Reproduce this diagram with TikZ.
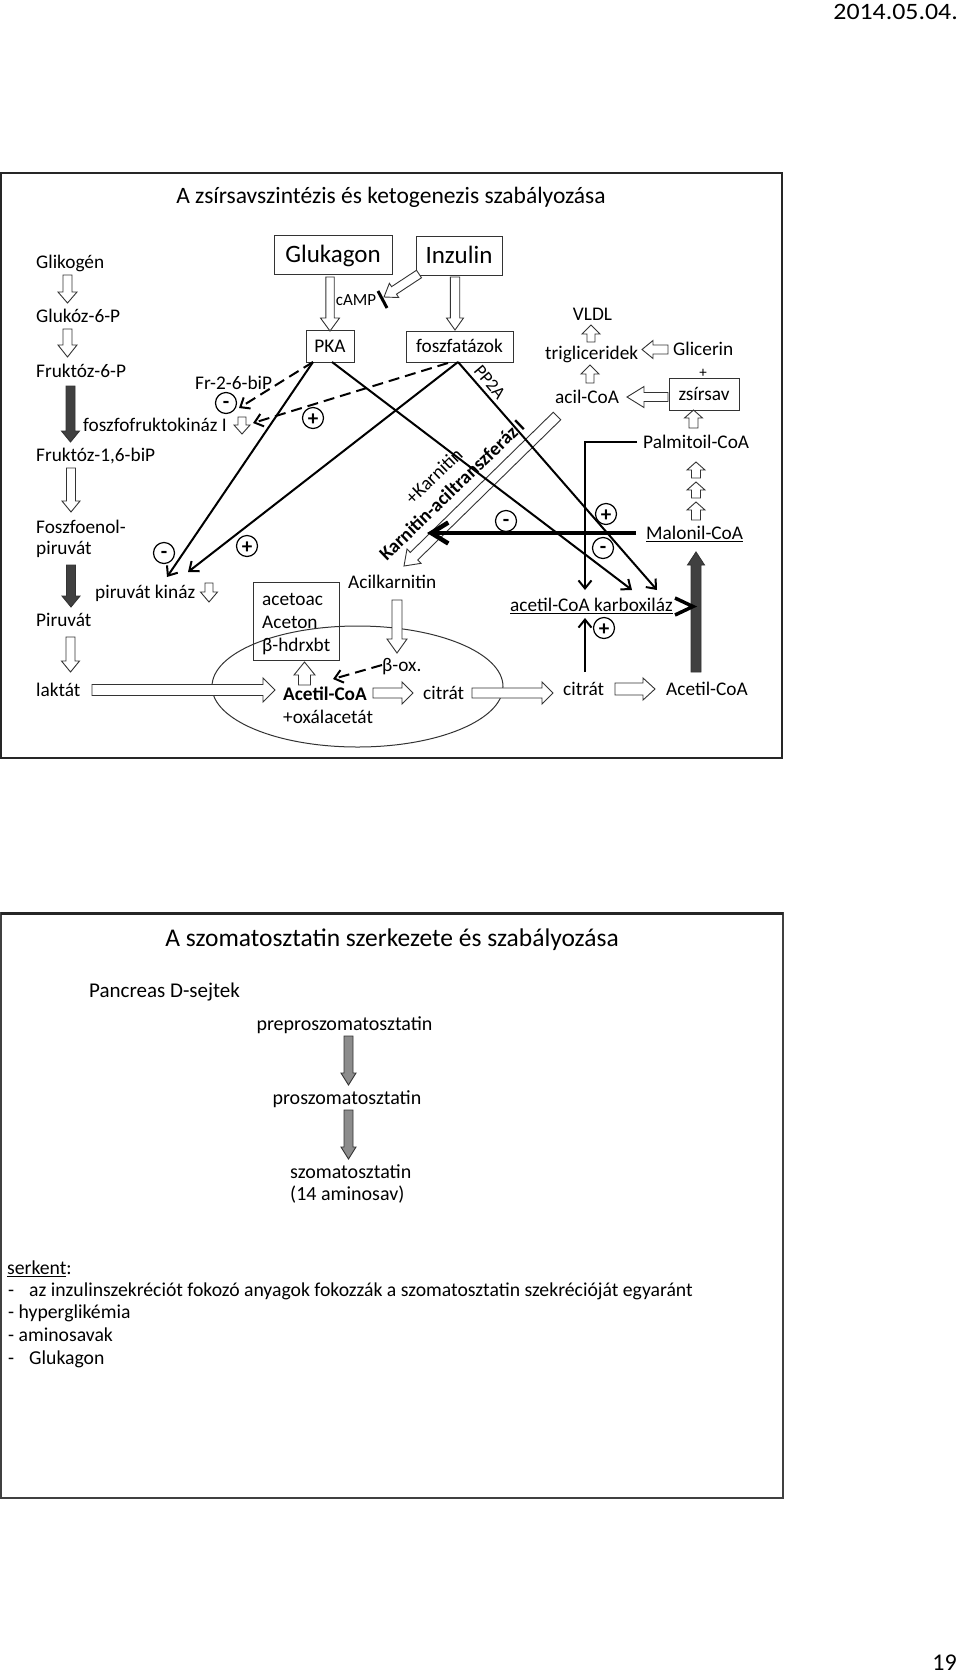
\documentclass[tikz,border=0pt]{standalone}
\usepackage{fontspec}
\setmainfont{Carlito}
\newfontfamily\strfont{Carlito}[FakeStretch=1.1]
\usetikzlibrary{calc,arrows.meta}
\newcommand{\fsz}[1]{\fontsize{#1pt}{#1pt}\selectfont}
% block (hollow) arrow: [style]{start}{end}{shaft half width}{head half width}{head length}
\newcommand{\barrow}[6][fill=white]{%
  \coordinate (bas) at (#2);
  \coordinate (bae) at (#3);
  \coordinate (bah) at ($(bae)!#6!(bas)$);
  \draw[blk,#1] ($(bas)!#4!90:(bae)$) -- ($(bah)!#4!-90:(bas)$) -- ($(bah)!#5!-90:(bas)$) -- (bae) -- ($(bah)!#5!90:(bas)$) -- ($(bah)!#4!90:(bas)$) -- ($(bas)!#4!-90:(bae)$) -- cycle;}
\tikzset{
  blk/.style={draw=black!80, line width=0.9pt, line join=miter},
  bodytxt/.style={inner sep=0pt, font=\fsz{19.3}, text height=12.6pt, text depth=0pt},
  smalltxt/.style={inner sep=0pt, font=\fsz{17}, text height=11pt, text depth=0pt},
  txtb/.style={inner sep=0pt, font=\fsz{20}, text height=13pt, text depth=0pt},
  boxn/.style={draw=black!80, line width=1pt, inner sep=0pt},
  conn/.style={line width=2pt, -{Straight Barb[length=8pt,width=13pt]}},
  dconn/.style={conn, dash pattern=on 11pt off 6pt},
  sgnp/.style={circle, draw, line width=1.2pt, minimum size=21pt, inner sep=0pt, font=\fsz{21}\bfseries, text height=14.2pt, text depth=0pt},
  sgnm/.style={sgnp, text height=11pt},
}
\begin{document}
\begin{tikzpicture}[x=1pt,y=-1pt]
\useasboundingbox (0,0) rectangle (960,1674);
\fill[white] (0,0) rectangle (960,1674);

% header / footer
\node[inner sep=0pt, anchor=east, font=\strfont\fsz{23.5}, text height=15pt, text depth=0pt] (date) at (958,12) {2014.05.04.};
\node[inner sep=0pt, anchor=east, font=\fsz{24}, text height=15.2pt, text depth=0pt] (pgnum) at (957,1663) {19};

% frames
\draw[line width=2pt, draw=black!85] (1,173) rectangle (782,758);
\draw[line width=1.5pt, draw=black!75] (1,913) rectangle (783,1498);
\draw[line width=3pt, draw=black!85] (1,913) -- (783,913);

% ellipse (mitochondrion)
\draw[line width=1pt, draw=black!80] (357.5,686.5) ellipse [x radius=145.5pt, y radius=60.5pt];

% ---------- frame 1 -------------
\node[inner sep=0pt, font=\fsz{23.5}, text height=15pt, text depth=0pt] (title1) at (391,196) {A zsírsavszintézis és ketogenezis szabályozása};

% left column
\node[bodytxt, anchor=west] (glik) at (36,262) {Glikogén};
\node[bodytxt, anchor=west] (g6p) at (36,316) {Glukóz-6-P};
\node[bodytxt, anchor=west] (f6p) at (36,371) {Fruktóz-6-P};
\node[bodytxt, anchor=west] (f16) at (36,455) {Fruktóz-1,6-biP};
\node[bodytxt, anchor=west] (pep1) at (36,527) {Foszfoenol-};
\node[bodytxt, anchor=west] (pep2) at (36,548) {piruvát};
\node[bodytxt, anchor=west] (pir) at (36,620) {Piruvát};
\node[bodytxt, anchor=west] (lak) at (36,690) {laktát};

\barrow{67.5,275}{67.5,303}{4.5pt}{9.5pt}{11pt}
\barrow{67.5,329}{67.5,357}{4.5pt}{9.5pt}{12pt}
\barrow[fill=black!75]{70.5,386}{70.5,442}{4.5pt}{9pt}{11pt}
\barrow{71,468}{71,512}{4.5pt}{9pt}{11pt}
\barrow[fill=black!75]{71,565}{71,607}{4.5pt}{9pt}{11pt}
\barrow{70.5,637}{70.5,672}{4.5pt}{9pt}{11pt}
\barrow{92,690}{275,690}{5.5pt}{12pt}{12pt}

% hormone boxes
\node[boxn, minimum width=118pt, minimum height=39pt, font=\fsz{25}, text height=16pt, text depth=0pt] (glukagon) at (333,254.5) {Glukagon};
\node[boxn, minimum width=86pt, minimum height=39pt, font=\fsz{25}, text height=16pt, text depth=0pt] (inzulin) at (459,255.5) {Inzulin};
\node[boxn, minimum width=48pt, minimum height=32pt, font=\fsz{19.3}, text height=12.6pt, text depth=0pt] (pka) at (330,346) {PKA};
\node[boxn, minimum width=107pt, minimum height=31pt, font=\fsz{19.3}, text height=12.6pt, text depth=0pt] (foszf) at (459.5,346.5) {foszfatázok};

\barrow{330,277}{330,331}{4.2pt}{9.5pt}{13pt}
\barrow{455,277}{455,330}{4.7pt}{8.5pt}{12pt}
\barrow{419,274}{384,297}{4.5pt}{8.5pt}{12pt}
\node[smalltxt] (camp) at (356,300) {cAMP};
\draw[line width=3pt] (378,291) -- (387,308);

% enzymes on the left
\node[bodytxt, anchor=west] (fr26) at (195,383) {Fr-2-6-biP};
\node[bodytxt, anchor=west] (pfk) at (83,425) {foszfofruktokináz I};
\barrow{242,417}{242,434}{4pt}{8pt}{9pt}
\node[bodytxt, anchor=west] (pk) at (95,592) {piruvát kináz};
\barrow{209,583}{209,602}{4pt}{8.5pt}{10pt}

% Karnitin-aciltranszferaz bar
\barrow{557,416}{404,566}{5.3pt}{10pt}{14pt}
\node[bodytxt, font=\fsz{19.3}\bfseries, rotate=44] (cat) at (452,490) {Karnitin-aciltranszferáz I};
\node[bodytxt, rotate=44] (karn) at (434,476) {+Karnitin};

% ketone bodies
\node[boxn, minimum width=86pt, minimum height=78pt] (keto) at (296,621) {};
\node[bodytxt, anchor=west] (k1) at (262,599) {acetoac};
\node[bodytxt, anchor=west] (k2) at (262,622) {Aceton};
\node[bodytxt, anchor=west] (k3) at (262,645) {β-hdrxbt};

\node[bodytxt, anchor=west] (acilk) at (348,582) {Acilkarnitin};
\barrow{397,600}{397,653}{5pt}{10pt}{14pt}
\node[bodytxt, anchor=west] (box) at (382,665) {β-ox.};
\node[bodytxt, anchor=west, font=\fsz{19.3}\bfseries] (acoa1) at (283,694) {Acetil-CoA};
\node[bodytxt, anchor=west] (oxal) at (283,717) {+oxálacetát};
\node[bodytxt, anchor=west] (citr1) at (423,693) {citrát};
\barrow{304.5,685}{304.5,662}{6pt}{10.5pt}{13pt}
\barrow{373,693}{413,693}{5pt}{11pt}{11pt}
\barrow{472,693}{553,693}{5pt}{11pt}{11pt}
\draw[dconn] (box.west) -- (333,679);

% right side
\node[bodytxt, anchor=west] (citr2) at (563,689) {citrát};
\node[bodytxt, anchor=west] (acoa2) at (666,689) {Acetil-CoA};
\barrow{615,689}{655,689}{6pt}{11pt}{12pt}
\barrow[fill=black!75]{696,672}{696,552}{5pt}{8.5pt}{13pt}
\node[bodytxt, anchor=west] (malon) at (646,533) {\underline{Malonil-CoA}};
\node[bodytxt, anchor=west] (acc) at (510,605) {\underline{acetil-CoA karboxiláz}};
\draw[line width=3.5pt, line join=miter] (675,598) -- (693,606.5) -- (675,615);
\node[bodytxt, anchor=west] (palm) at (643,442) {Palmitoil-CoA};
\barrow{696,520}{696,502}{4.5pt}{9pt}{8pt}
\barrow{696,498}{696,482}{4.5pt}{9pt}{8pt}
\barrow{696,478}{696,462}{4.5pt}{9pt}{8pt}
\barrow{693.5,428}{693.5,410}{4.5pt}{9pt}{8pt}
\node[boxn, minimum width=70pt, minimum height=32pt, font=\fsz{19.3}, text height=12.6pt, text depth=0pt] (zsir) at (704,394) {zsírsav};
\node[smalltxt, font=\fsz{15}, text height=10pt] (plus0) at (703,372) {+};
\node[bodytxt, anchor=west] (glic) at (673,349) {Glicerin};
\node[bodytxt, anchor=west] (trig) at (545,353) {trigliceridek};
\node[bodytxt, anchor=west] (acil) at (555,397) {acil-CoA};
\node[bodytxt] (vldl) at (592.5,314) {VLDL};
\barrow{591,342}{591,325}{4pt}{9pt}{9pt}
\barrow{590,383}{590,365}{4pt}{9pt}{9pt}
\barrow{668,349.5}{642,349.5}{4.5pt}{9pt}{11pt}
\barrow{668,397}{627,397}{4.5pt}{10.5pt}{17pt}

% regulation lines
\coordinate (pkaA) at (313,362);
\coordinate (pkaB) at (332,362);
\coordinate (fozA) at (448,363);
\coordinate (fozB) at (458,362);
\draw[dconn] (pkaA) -- (239,408);
\draw[dconn] (fozA) -- (253,423);
\draw[conn] (pkaA) -- (167,577);
\draw[conn] (fozB) -- (188,572);
\draw[conn] (pkaB) -- (632,590);
\draw[conn] (fozB) -- (657,590);
\node[smalltxt, font=\fsz{18}, text height=12pt, rotate=-50] (pp2a) at (490,382) {PP2A};
\draw[conn] ([xshift=-6pt]palm.west) -| (585,590);
\draw[conn] (585,672) -- (585,618);
\draw[line width=4.5pt, -{Straight Barb[length=17pt,width=21pt]}] (636,533) -- (427,533);

% signs
\node[sgnm] (m1) at (226,403) {-};
\node[sgnp] (p1) at (313,418) {+};
\node[sgnm] (m2) at (164,553) {-};
\node[sgnp] (p2) at (247,546) {+};
\node[sgnm] (m3) at (506,521) {-};
\node[sgnp] (p3) at (606,514) {+};
\node[sgnm] (m4) at (603,548) {-};
\node[sgnp] (p4) at (604,628) {+};

% ---------- frame 2 -------------
\node[inner sep=0pt, font=\fsz{25.5}, text height=16.4pt, text depth=0pt] (title2) at (392,938) {A szomatosztatin szerkezete és szabályozása};
\node[txtb, anchor=west, font=\fsz{21}, text height=13.6pt] (panc) at (89,991) {Pancreas D-sejtek};
\node[txtb] (prepro) at (344.5,1024) {preproszomatosztatin};
\node[txtb] (prosz) at (347,1098) {proszomatosztatin};
\node[txtb, anchor=west] (szom) at (290,1172) {szomatosztatin};
\node[txtb, anchor=west] (amino) at (290,1194) {(14 aminosav)};
\barrow[fill=black!45]{348.5,1036}{348.5,1085}{4.5pt}{7.5pt}{12pt}
\barrow[fill=black!45]{348.5,1110}{348.5,1159}{4.5pt}{7.5pt}{12pt}

\node[txtb, anchor=west, font=\fsz{19.7}] (serk) at (7,1268) {\underline{serkent}:};
\node[txtb, anchor=west, font=\fsz{19.7}] (l1) at (8,1290) {-\hspace{15pt}az inzulinszekréciót fokozó anyagok fokozzák a szomatosztatin szekrécióját egyaránt};
\node[txtb, anchor=west, font=\fsz{19.7}] (l2) at (8,1312) {- hyperglikémia};
\node[txtb, anchor=west, font=\fsz{19.7}] (l3) at (8,1335) {- aminosavak};
\node[txtb, anchor=west, font=\fsz{19.7}] (l4) at (8,1358) {-\hspace{15pt}Glukagon};
\end{tikzpicture}
\end{document}
